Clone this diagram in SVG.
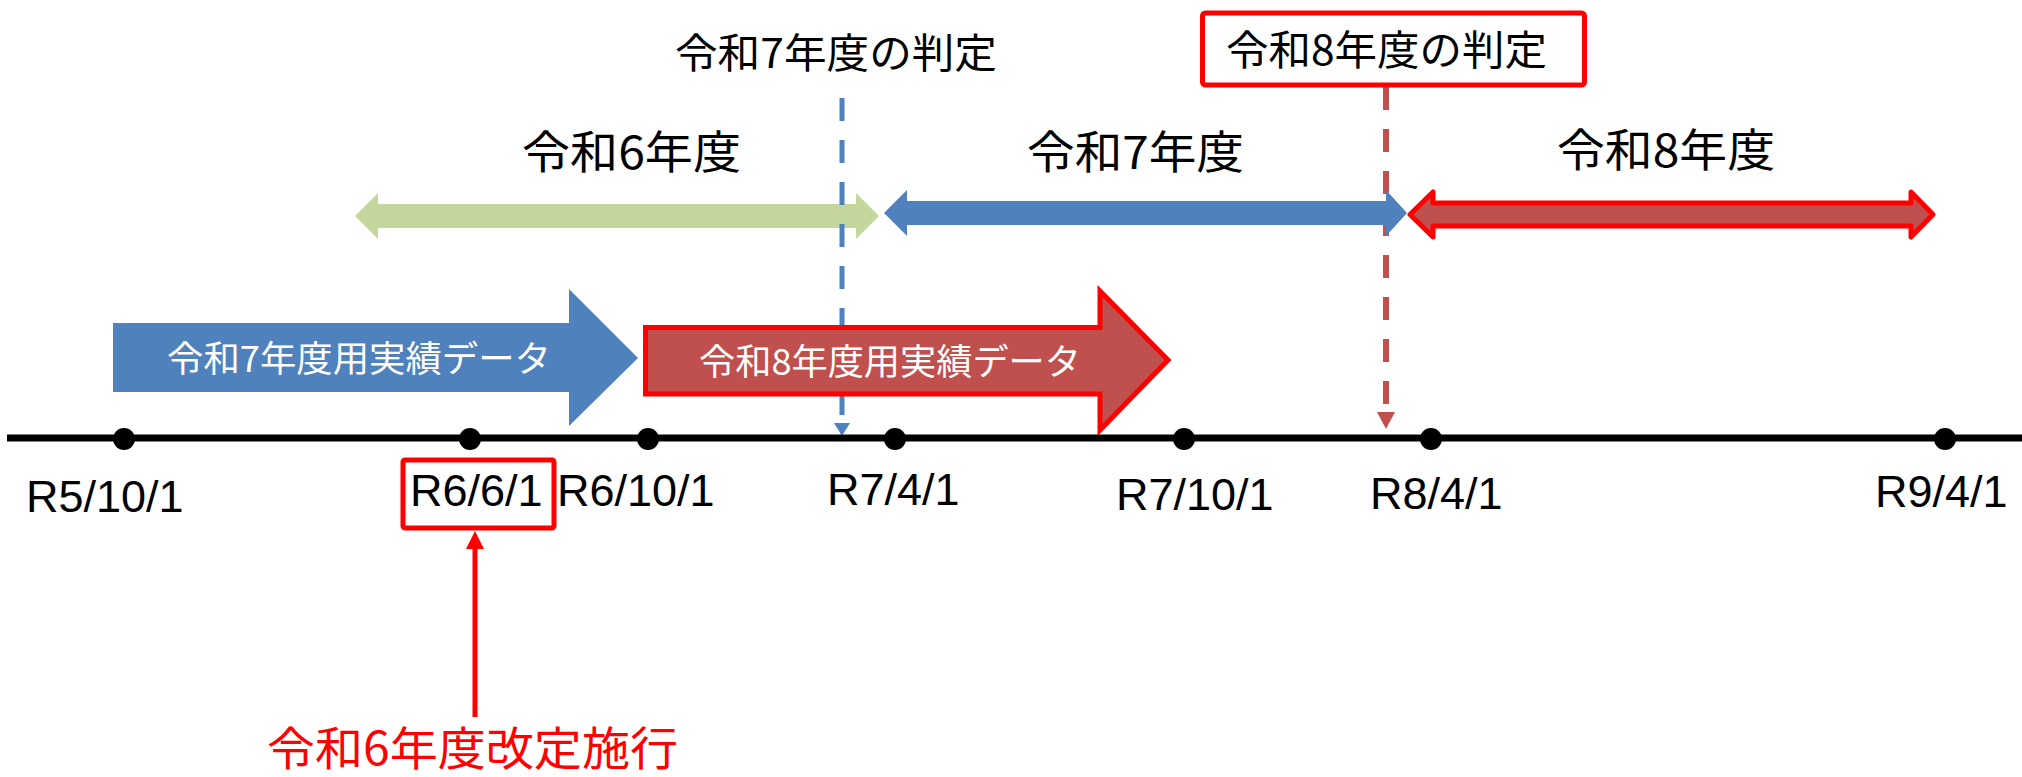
<svg xmlns="http://www.w3.org/2000/svg" width="2022" height="777" viewBox="0 0 2022 777">
<style>
.jp{font-family:"Noto Sans CJK JP","Noto Sans",sans-serif;text-anchor:middle}
.dt{font-family:"Liberation Sans",Arial,sans-serif;font-size:45px;fill:#000}
.dot{fill:#000}
</style>
<rect x="0" y="0" width="2022" height="777" fill="#fff"/>
<g id="fy6">
<polygon points="355,216 378,193 378,204 856,204 856,193 879,216 856,239 856,228 378,228 378,239" fill="#C3D69B"/>
<text class="jp" x="631.5" y="169" font-size="45" textLength="219" lengthAdjust="spacingAndGlyphs">令和6年度</text>
</g>
<g id="connectors">
<line x1="842" y1="98" x2="842" y2="415" stroke="#4F81BD" stroke-width="5" stroke-dasharray="23 19"/>
<polygon points="834,423 850,423 842,436" fill="#4F81BD"/>
<line x1="1386" y1="87" x2="1386" y2="404" stroke="#C0504D" stroke-width="6" stroke-dasharray="23 19"/>
<polygon points="1377,412 1395,412 1386,429" fill="#C0504D"/>
<line x1="475" y1="717" x2="475" y2="546" stroke="#FF0000" stroke-width="5"/>
<polygon points="466,549 484,549 475,531" fill="#FF0000"/>
</g>
<g id="fy7">
<polygon points="884,213 907,190 907,201 1386,201 1386,190 1407,213 1386,236 1386,225 907,225 907,236" fill="#4F81BD"/>
<text class="jp" x="1135.5" y="169" font-size="45" textLength="217" lengthAdjust="spacingAndGlyphs">令和7年度</text>
</g>
<g id="fy8">
<polygon points="1410,214.5 1433,192 1433,203 1911,203 1911,192 1933,214.5 1911,237 1911,226 1433,226 1433,237" fill="#C0504D" stroke="#FF0000" stroke-width="5" stroke-linejoin="round"/>
<text class="jp" x="1666" y="167" font-size="45" textLength="218" lengthAdjust="spacingAndGlyphs">令和8年度</text>
</g>
<g id="judge7">
<text class="jp" x="836" y="68" font-size="41" textLength="322" lengthAdjust="spacingAndGlyphs">令和7年度の判定</text>
</g>
<g id="judge8">
<rect x="1202.5" y="13" width="382" height="72" rx="3" fill="#fff" stroke="#FF0000" stroke-width="5"/>
<text class="jp" x="1386.5" y="65" font-size="41" textLength="321" lengthAdjust="spacingAndGlyphs">令和8年度の判定</text>
</g>
<g id="data7">
<polygon points="113,323 569,323 569,289 638,358 569,426 569,392 113,392" fill="#4F81BD"/>
<text class="jp" x="359" y="372" font-size="36" fill="#fff" textLength="384" lengthAdjust="spacingAndGlyphs">令和7年度用実績データ</text>
</g>
<g id="data8">
<polygon points="645.5,327.5 1100,327.5 1100,291 1168,360 1100,430 1100,394 645.5,394" fill="#C0504D" stroke="#FF0000" stroke-width="5"/>
<text class="jp" x="890" y="375" font-size="36" fill="#fff" textLength="382" lengthAdjust="spacingAndGlyphs">令和8年度用実績データ</text>
</g>
<g id="timeline">
<line x1="7" y1="438" x2="2022" y2="438" stroke="#000" stroke-width="7"/>
<circle class="dot" cx="124" cy="439" r="11"/>
<circle class="dot" cx="470" cy="439" r="11"/>
<circle class="dot" cx="648" cy="439" r="11"/>
<circle class="dot" cx="895" cy="439" r="11"/>
<circle class="dot" cx="1184" cy="439" r="11"/>
<circle class="dot" cx="1431" cy="439" r="11"/>
<circle class="dot" cx="1945" cy="439" r="11"/>
</g>
<g id="dates">
<text class="dt" x="26" y="512">R5/10/1</text>
<text class="dt" x="557" y="506">R6/10/1</text>
<text class="dt" x="827" y="505">R7/4/1</text>
<text class="dt" x="1116" y="510">R7/10/1</text>
<text class="dt" x="1370" y="509">R8/4/1</text>
<text class="dt" x="1875" y="507">R9/4/1</text>
</g>
<g id="r661">
<rect x="403" y="460" width="151" height="68" rx="2" fill="none" stroke="#FF0000" stroke-width="5"/>
<text class="dt" x="410" y="506">R6/6/1</text>
</g>
<g id="kaitei">
<text class="jp" x="472.5" y="765" font-size="46" fill="#FF0000" textLength="411" lengthAdjust="spacingAndGlyphs">令和6年度改定施行</text>
</g>
</svg>
